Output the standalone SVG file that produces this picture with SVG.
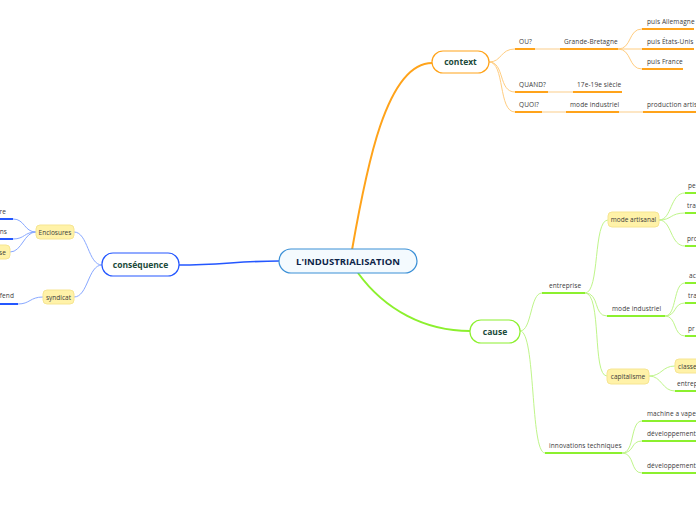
<svg xmlns="http://www.w3.org/2000/svg" width="696" height="520" viewBox="0 0 696 520">
<style>
text{font-family:"Open Sans","Liberation Sans",sans-serif;}
.t{font-size:6.5px;fill:#3a3a3a;letter-spacing:0.1px;}
.main{font-size:8.5px;font-weight:bold;fill:#1b4a3a;text-anchor:middle;}
.sub{font-size:6.5px;fill:#3a3a3a;text-anchor:middle;}
.yb{fill:#fff2a8;stroke:#f6e592;stroke-width:1;}
.co{fill:none;stroke:#ffcd80;stroke-width:1;}
.cof{fill:none;stroke:#fde6c4;stroke-width:2;}
.uo{fill:none;stroke:#ffa31a;stroke-width:2;}
.cg{fill:none;stroke:#bff58a;stroke-width:1;}
.ug{fill:none;stroke:#8cf02e;stroke-width:2;}
.cb{fill:none;stroke:#88a8ff;stroke-width:1;}
.ub{fill:none;stroke:#2457ff;stroke-width:2;}
</style>
<rect width="696" height="520" fill="#ffffff"/>
<g id="connectors">
  <path d="M352,250 C366,170 386,63 432,63" fill="none" stroke="#ffa31a" stroke-width="2"/>
  <path d="M358,273 C385,310 425,331 470,331" fill="none" stroke="#8cf02e" stroke-width="2"/>
  <path d="M279,261 C240,261 220,265 179,265" fill="none" stroke="#2457ff" stroke-width="1.6"/>
  <path class="co" d="M489,62 C502,62 500,49 515,49"/>
  <path class="co" d="M489,62 C505,62 498,92 515,92"/>
  <path class="co" d="M489,62 C505,62 498,112 515,112"/>
  <path class="cof" d="M535,49 L560,49"/>
  <path class="cof" d="M548,92 L573,92"/>
  <path class="cof" d="M542,112 L566,112"/>
  <path class="cof" d="M619,112 L643,112"/>
  <path class="co" d="M618,49 C632,49 628,29 642,29"/>
  <path class="co" d="M618,49 L642,49"/>
  <path class="co" d="M618,49 C632,49 628,69 642,69"/>
  <path class="cg" d="M520,331 C532,331 530,293 542,293"/>
  <path class="cg" d="M520,331 C536,331 530,453 545,453"/>
  <path class="cg" d="M585,293 C600,293 593,220 608,220"/>
  <path class="cg" d="M585,293 C600,293 593,316 607,316"/>
  <path class="cg" d="M585,293 C602,293 592,376 607,376"/>
  <path class="cg" d="M659,220 C672,220 670,193 685,193"/>
  <path class="cg" d="M659,220 C672,220 670,213 685,213"/>
  <path class="cg" d="M659,220 C672,220 670,246 685,246"/>
  <path class="cg" d="M665,316 C677,316 673,283 685,283"/>
  <path class="cg" d="M665,316 C677,316 673,303 685,303"/>
  <path class="cg" d="M665,316 C677,316 673,336 685,336"/>
  <path class="cg" d="M649,376 C662,376 662,366 675,366"/>
  <path class="cg" d="M649,376 C662,376 662,391 675,391"/>
  <path class="cg" d="M622,453 C635,453 630,421 642,421"/>
  <path class="cg" d="M622,453 C635,453 630,441 642,441"/>
  <path class="cg" d="M622,453 C635,453 630,473 642,473"/>
  <path class="cb" d="M102,265 C88,265 88,232 74,232"/>
  <path class="cb" d="M102,265 C88,265 88,297 74,297"/>
  <path class="cb" d="M36,232 C24,232 25,219 13,219"/>
  <path class="cb" d="M36,232 C24,232 25,239 13,239"/>
  <path class="cb" d="M36,232 C24,232 22,252 10,252"/>
  <path class="cb" d="M43,297 C30,297 30,304 18,304"/>
</g>
<g id="center">
  <rect x="279" y="249" width="138" height="24" rx="12" fill="#f4fafe" stroke="#3a8fd6" stroke-width="1.2"/>
  <text x="348" y="265" text-anchor="middle" font-size="9.5" font-weight="bold" fill="#0d2449">L'INDUSTRIALISATION</text>
</g>
<g id="context">
  <rect x="432" y="51" width="57" height="22" rx="11" fill="#fff" stroke="#ffa31a" stroke-width="1.2"/>
  <text class="main" x="460.5" y="65">context</text>
</g>
<g id="ou"><path class="uo" d="M515,49 L535,49"/><text class="t" x="519" y="44">OU?</text></g>
<g id="gb"><path class="uo" d="M560,49 L618,49"/><text class="t" x="564" y="44">Grande-Bretagne</text></g>
<g id="allemagne"><path class="uo" d="M642,29 L694,29"/><text class="t" x="647" y="24">puis Allemagne</text></g>
<g id="etatsunis"><path class="uo" d="M642,49 L694,49"/><text class="t" x="647" y="44">puis États-Unis</text></g>
<g id="france"><path class="uo" d="M642,69 L683,69"/><text class="t" x="647" y="64">puis France</text></g>
<g id="quand"><path class="uo" d="M515,92 L548,92"/><text class="t" x="519" y="87">QUAND?</text></g>
<g id="siecle"><path class="uo" d="M573,92 L622,92"/><text class="t" x="577" y="87">17e-19e siècle</text></g>
<g id="quoi"><path class="uo" d="M515,112 L542,112"/><text class="t" x="519" y="107">QUOI?</text></g>
<g id="modeind1"><path class="uo" d="M566,112 L619,112"/><text class="t" x="570" y="107">mode industriel</text></g>
<g id="prodart"><path class="uo" d="M643,112 L696,112"/><text class="t" x="647" y="107">production artisan</text></g>
<g id="cause">
  <rect x="470" y="320" width="50" height="23" rx="11" fill="#fff" stroke="#8cf02e" stroke-width="1.2"/>
  <text class="main" x="495" y="335">cause</text>
</g>
<g id="entreprise"><path class="ug" d="M542,293 L585,293"/><text class="t" x="549" y="288">entreprise</text></g>
<g id="modeartisanal"><rect class="yb" x="608" y="212" width="51" height="15" rx="4"/><text class="sub" x="633.5" y="222">mode artisanal</text></g>
<g id="pe"><path class="ug" d="M685,193 L696,193"/><text class="t" x="688" y="188">pe</text></g>
<g id="tra1"><path class="ug" d="M685,213 L696,213"/><text class="t" x="687" y="208">tra</text></g>
<g id="pro"><path class="ug" d="M685,246 L696,246"/><text class="t" x="687" y="241">pro</text></g>
<g id="modeindustriel"><path class="ug" d="M607,316 L665,316"/><text class="t" x="612" y="311">mode industriel</text></g>
<g id="ac"><path class="ug" d="M685,283 L696,283"/><text class="t" x="689" y="278">ac</text></g>
<g id="tra2"><path class="ug" d="M685,303 L696,303"/><text class="t" x="688" y="298">tra</text></g>
<g id="pr"><path class="ug" d="M685,336 L696,336"/><text class="t" x="688" y="331">pr</text></g>
<g id="capitalisme"><rect class="yb" x="607" y="369" width="42" height="15" rx="4"/><text class="sub" x="628" y="379">capitalisme</text></g>
<g id="classe"><rect class="yb" x="675" y="359" width="32" height="14" rx="4"/><text class="t" x="678" y="368.5">classe</text></g>
<g id="entrep"><path class="ug" d="M675,391 L696,391"/><text class="t" x="677" y="386">entrep</text></g>
<g id="innovations"><path class="ug" d="M545,453 L622,453"/><text class="t" x="549" y="448">innovations techniques</text></g>
<g id="machine"><path class="ug" d="M642,421 L696,421"/><text class="t" x="647" y="416">machine a vapeur</text></g>
<g id="devin"><path class="ug" d="M642,441 L696,441"/><text class="t" x="647" y="436">développement in</text></g>
<g id="devtr"><path class="ug" d="M642,473 L696,473"/><text class="t" x="647" y="468">développement tr</text></g>
<g id="consequence">
  <rect x="102" y="253" width="77" height="23" rx="11" fill="#fff" stroke="#2457ff" stroke-width="1.2"/>
  <text class="main" x="140.5" y="268">conséquence</text>
</g>
<g id="enclosures"><rect class="yb" x="36" y="225" width="38" height="14" rx="4"/><text class="sub" x="55" y="234.5">Enclosures</text></g>
<g id="re"><path class="ub" d="M0,219 L13,219"/><text class="t" x="6" y="214" text-anchor="end">re</text></g>
<g id="ns"><path class="ub" d="M0,239 L13,239"/><text class="t" x="7" y="234" text-anchor="end">ns</text></g>
<g id="se"><rect class="yb" x="-20" y="245" width="30" height="14" rx="4"/><text class="t" x="6" y="254.5" text-anchor="end">se</text></g>
<g id="syndicat"><rect class="yb" x="43" y="290" width="31" height="14" rx="4"/><text class="sub" x="58.5" y="299.5">syndicat</text></g>
<g id="fend"><path class="ub" d="M0,304 L18,304"/><text class="t" x="14" y="298" text-anchor="end">fend</text></g>
</svg>
